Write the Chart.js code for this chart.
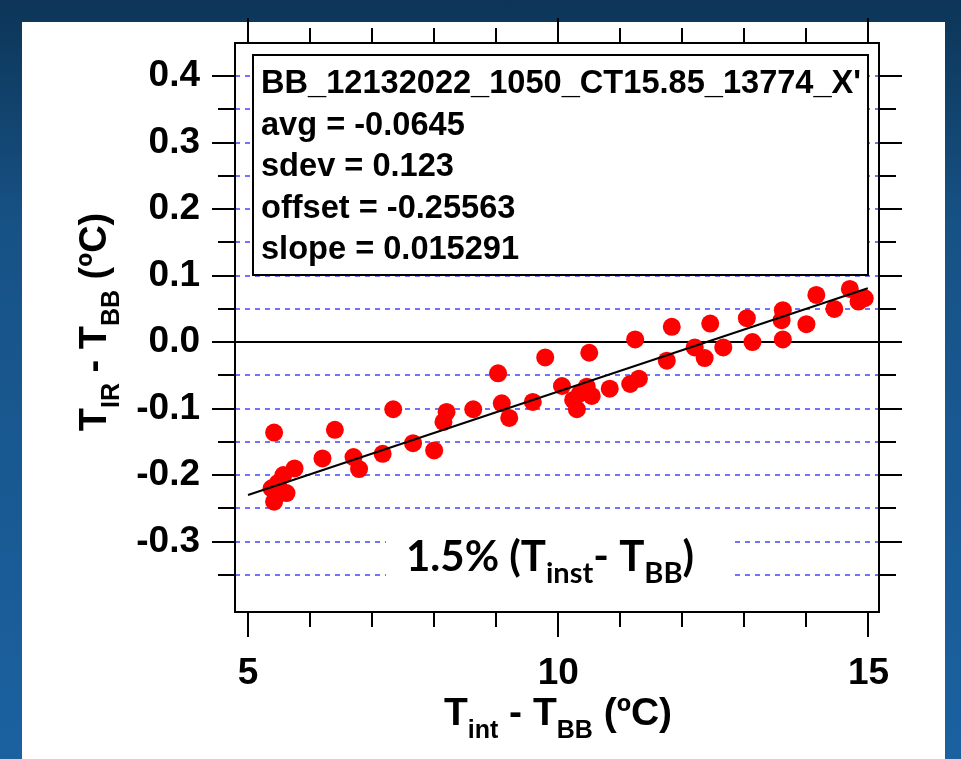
<!DOCTYPE html>
<html>
<head>
<meta charset="utf-8">
<script src="https://cdn.jsdelivr.net/npm/chart.js@4.4.1/dist/chart.umd.min.js"></script>
<style>
  html, body { margin: 0; padding: 0; }
  body { width: 961px; height: 759px; overflow: hidden; position: relative;
         background: linear-gradient(180deg, #0c3557 0%, #175286 30%, #1b61a0 100%); }
  #panel { position: absolute; left: 22px; top: 22px; width: 923px; height: 737px; background: #fff; }
  #wrap { position: absolute; left: 0; top: 0; width: 961px; height: 759px; }
</style>
</head>
<body>
<div id="panel"></div>
<div id="wrap"><canvas id="c" width="961" height="759"></canvas></div>
<script>
// measured points: T_int - T_BB vs T_IR - T_BB
const xVals = [5.42, 5.38, 5.42, 5.62, 5.57, 5.75, 5.48, 6.40, 7.34, 6.20, 6.70, 6.79, 7.17, 7.66, 8.00,
  8.20, 8.15, 8.63, 9.03, 9.09, 9.21, 9.59, 9.79, 10.06, 10.24, 10.30, 10.35, 10.46, 10.54, 10.50,
  10.83, 11.16, 11.30, 11.24, 11.75, 11.83, 12.20, 12.36, 12.45, 12.66, 13.04, 13.13, 13.60, 13.62,
  13.62, 14.00, 14.16, 14.45, 14.70, 14.84, 14.94];
const yVals = [-0.136, -0.220, -0.240, -0.227, -0.200, -0.190, -0.212, -0.132, -0.101, -0.175, -0.173, -0.191, -0.168, -0.152, -0.163,
  -0.105, -0.120, -0.101, -0.047, -0.092, -0.114, -0.090, -0.023, -0.066, -0.087, -0.101, -0.077, -0.067, -0.081, -0.016,
  -0.070, -0.063, -0.055, 0.004, -0.028, 0.023, -0.008, -0.024, 0.028, -0.008, 0.036, 0.000, 0.033, 0.048,
  0.004, 0.027, 0.071, 0.050, 0.080, 0.061, 0.066];

// fitted line ends
const fitX = [5.0, 14.99];
const fitY = [-0.230, 0.081];

const xTicks = [5, 10, 15];
const xMinorTicks = [6, 7, 8, 9, 11, 12, 13, 14];
const yGridTicks = [-0.35, -0.3, -0.25, -0.2, -0.15, -0.1, -0.05, 0, 0.05, 0.1, 0.15, 0.2, 0.25, 0.3, 0.35, 0.4];
const yTicks = [-0.3, -0.2, -0.1, 0, 0.1, 0.2, 0.3, 0.4];
const yMinorTicks = [-0.35, -0.25, -0.15, -0.05, 0.05, 0.15, 0.25, 0.35];

const legendLines = ["BB_12132022_1050_CT15.85_13774_X'", 'avg = -0.0645', 'sdev = 0.123',
  'offset = -0.25563', 'slope = 0.015291'];

const ARIAL = '"Liberation Sans", Arial, sans-serif';

// draw text made of normal and subscript pieces, centred on x
function richText(ctx, parts, x, y, size, subSize, subDrop, family) {
  const font = s => 'bold ' + s + 'px ' + family;
  let w = 0;
  parts.forEach(p => { ctx.font = font(p.sub ? subSize : size); w += ctx.measureText(p.t).width; });
  let cx = x - w / 2;
  ctx.textBaseline = 'alphabetic';
  ctx.textAlign = 'left';
  parts.forEach(p => {
    ctx.font = font(p.sub ? subSize : size);
    ctx.fillText(p.t, cx, p.sub ? y + subDrop : y);
    cx += ctx.measureText(p.t).width;
  });
}

const decor = {
  id: 'decor',
  beforeDatasetsDraw(chart) {
    const { ctx } = chart;
    ctx.save();
    // stats box
    ctx.fillStyle = '#fff';
    ctx.fillRect(253, 55, 615, 220);
    ctx.strokeStyle = '#000';
    ctx.lineWidth = 2;
    ctx.strokeRect(253, 55, 615, 220);
    ctx.fillStyle = '#000';
    ctx.font = 'bold 32.6px ' + ARIAL;
    ctx.textBaseline = 'alphabetic';
    legendLines.forEach((s, i) => ctx.fillText(s, 261, 93 + i * 41.5));

    // note
    ctx.fillStyle = '#fff';
    ctx.fillRect(386, 518, 348, 70);
    ctx.fillStyle = '#000';
    richText(ctx, [{ t: '1.5% (T' }, { t: 'inst', sub: true }, { t: '- T' }, { t: 'BB', sub: true }, { t: ')' }],
      550, 571, 42, 29, 12, 'Lato, "Open Sans", sans-serif');
    ctx.restore();
  },
  afterDraw(chart) {
    const { ctx, chartArea: a, scales: { x, y } } = chart;
    ctx.save();
    ctx.strokeStyle = '#000';
    ctx.lineWidth = 2;
    ctx.strokeRect(a.left, a.top, a.right - a.left, a.bottom - a.top);
    ctx.beginPath();
    const tick = (vals, len) => {
      vals.forEach(v => {
        const px = Math.round(x.getPixelForValue(v));
        ctx.moveTo(px, a.bottom); ctx.lineTo(px, a.bottom + len);
        ctx.moveTo(px, a.top); ctx.lineTo(px, a.top - len);
      });
    };
    const ytick = (vals, len) => {
      vals.forEach(v => {
        const py = Math.round(y.getPixelForValue(v));
        ctx.moveTo(a.left, py); ctx.lineTo(a.left - len, py);
        ctx.moveTo(a.right, py); ctx.lineTo(a.right + len, py);
      });
    };
    tick(xTicks, 25); tick(xMinorTicks, 15);
    ytick(yTicks, 23); ytick(yMinorTicks, 17);
    ctx.stroke();

    // axis titles
    ctx.fillStyle = '#000';
    richText(ctx, [{ t: 'T' }, { t: 'int', sub: true }, { t: ' - T' }, { t: 'BB', sub: true }, { t: ' (ºC)' }],
      558, 725, 39, 25, 13, ARIAL);
    ctx.translate(106, 322);
    ctx.rotate(-Math.PI / 2);
    richText(ctx, [{ t: 'T' }, { t: 'IR', sub: true }, { t: ' - T' }, { t: 'BB', sub: true }, { t: ' (ºC)' }],
      0, 0, 38, 25, 13, ARIAL);
    ctx.restore();
  }
};

new Chart(document.getElementById('c'), {
  type: 'scatter',
  data: {
    datasets: [
      {
        data: xVals.map((v, i) => ({ x: v, y: yVals[i] })),
        backgroundColor: '#ff0000',
        borderWidth: 0,
        pointRadius: 9,
        pointHoverRadius: 9,
        order: 1
      },
      {
        type: 'line',
        data: fitX.map((v, i) => ({ x: v, y: fitY[i] })),
        borderColor: '#000',
        borderWidth: 2,
        pointRadius: 0,
        fill: false,
        order: 0
      }
    ]
  },
  options: {
    responsive: false,
    animation: false,
    layout: { padding: { top: 43, right: 82, left: 0, bottom: 0 } },
    plugins: { legend: { display: false }, tooltip: { enabled: false } },
    scales: {
      x: {
        type: 'linear',
        min: 4.79,
        max: 15.17,
        afterBuildTicks: s => { s.ticks = xTicks.map(v => ({ value: v })); },
        afterFit: s => { s.height = 147; s.paddingLeft = 0; s.paddingRight = 0; },
        grid: { display: false, drawTicks: false },
        border: { display: false },
        ticks: { color: '#000', padding: 40, maxRotation: 0, autoSkip: false,
                 font: { family: ARIAL, size: 37, weight: 'bold' } }
      },
      y: {
        type: 'linear',
        min: -0.406,
        max: 0.45,
        afterBuildTicks: s => { s.ticks = yGridTicks.map(v => ({ value: v })); },
        afterFit: s => { s.width = 235; s.paddingTop = 0; s.paddingBottom = 0; },
        grid: {
          drawTicks: false,
          lineWidth: 2,
          color: c => (c.tick && c.tick.value === 0 ? '#000' : '#7272ff')
        },
        border: { display: false, dash: c => (c.tick && c.tick.value === 0 ? [] : [5, 5]) },
        ticks: {
          color: '#000',
          padding: 35,
          autoSkip: false,
          font: { family: ARIAL, size: 37, weight: 'bold' },
          callback: v => (yTicks.includes(v) ? v.toFixed(1) : '')
        }
      }
    }
  },
  plugins: [decor]
});
</script>
</body>
</html>
